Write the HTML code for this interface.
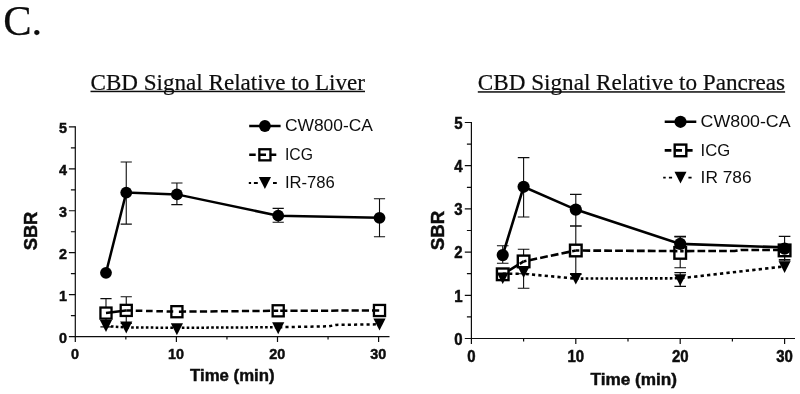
<!DOCTYPE html>
<html lang="en">
<head>
<meta charset="utf-8">
<title>C. CBD Signal Relative to Liver / Pancreas</title>
<style>
html,body{margin:0;padding:0;background:#fff;}
body{width:800px;height:394px;overflow:hidden;}
svg{display:block;will-change:transform;}
</style>
</head>
<body>
<svg width="800" height="394" viewBox="0 0 800 394">
<rect width="800" height="394" fill="#fff"/>
<text x="3.2" y="35.2" font-family="'Liberation Serif', 'Times New Roman', Times, serif" font-size="42.5" fill="#0d0d0d" stroke="#0d0d0d" stroke-width="0.25">C.</text>
<!-- left chart -->
<g stroke="#0d0d0d" stroke-width="1.2" fill="none">
<path d="M75.3 126.25V336.6H389.5"/>
<path d="M75.3 336.6h-6.4M75.3 315.62h-4.4M75.3 294.65h-6.4M75.3 273.68h-4.4M75.3 252.7h-6.4M75.3 231.73h-4.4M75.3 210.75h-6.4M75.3 189.78h-4.4M75.3 168.8h-6.4M75.3 147.83h-4.4M75.3 126.85h-6.4M75.3 336.6v5.5M125.85 336.6v3M176.4 336.6v5.5M226.95 336.6v3M277.5 336.6v5.5M328.05 336.6v3M378.6 336.6v5.5"/>
</g>
<g font-family="'Liberation Sans', Arial, Helvetica, sans-serif" font-weight="bold" font-size="14.4" fill="#0d0d0d" stroke="#0d0d0d" stroke-width="0.45">
<text transform="translate(67.1 342.8) scale(1 1.06)" text-anchor="end">0</text>
<text transform="translate(67.1 300.85) scale(1 1.06)" text-anchor="end">1</text>
<text transform="translate(67.1 258.9) scale(1 1.06)" text-anchor="end">2</text>
<text transform="translate(67.1 216.95) scale(1 1.06)" text-anchor="end">3</text>
<text transform="translate(67.1 175) scale(1 1.06)" text-anchor="end">4</text>
<text transform="translate(67.1 133.05) scale(1 1.06)" text-anchor="end">5</text>
<text transform="translate(75 359.2) scale(1 1.06)" text-anchor="middle">0</text>
<text transform="translate(176.1 359.2) scale(1 1.06)" text-anchor="middle">10</text>
<text transform="translate(277.2 359.2) scale(1 1.06)" text-anchor="middle">20</text>
<text transform="translate(378.3 359.2) scale(1 1.06)" text-anchor="middle">30</text>
</g>
<text x="232.3" y="380.5" text-anchor="middle" font-family="'Liberation Sans', Arial, Helvetica, sans-serif" font-weight="bold" font-size="16.8" fill="#0d0d0d" stroke="#0d0d0d" stroke-width="0.45">Time (min)</text>
<text transform="translate(37 231) rotate(-90)" text-anchor="middle" font-family="'Liberation Sans', Arial, Helvetica, sans-serif" font-weight="bold" font-size="17.8" fill="#0d0d0d" stroke="#0d0d0d" stroke-width="0.45" textLength="38.6" lengthAdjust="spacingAndGlyphs">SBR</text>
<text x="90.5" y="89.9" font-family="'Liberation Serif', 'Times New Roman', Times, serif" font-size="23" fill="#0d0d0d" stroke="#0d0d0d" stroke-width="0.2" textLength="274.5" lengthAdjust="spacingAndGlyphs">CBD Signal Relative to Liver</text>
<rect x="90.5" y="90.7" width="274.5" height="1.5" fill="#0d0d0d"/>
<path d="M126.25 162V224.1M120.65 162h11.2M120.65 224.1h11.2M176.9 183V204.6M171.3 183h11.2M171.3 204.6h11.2M278.2 208.4V222.3M272.6 208.4h11.2M272.6 222.3h11.2M379.5 198.8V236.8M373.9 198.8h11.2M373.9 236.8h11.2" stroke="#0d0d0d" stroke-width="1.1" fill="none"/>
<path d="M105.99 298.6V326.9M100.39 298.6h11.2M100.39 326.9h11.2M126.25 296.7V323.5M120.65 296.7h11.2M120.65 323.5h11.2" stroke="#0d0d0d" stroke-width="1.1" fill="none"/>
<rect x="100.44" y="307.55" width="11.1" height="11.1" fill="#fff" stroke="#000" stroke-width="2.3"/>
<rect x="120.7" y="304.85" width="11.1" height="11.1" fill="#fff" stroke="#000" stroke-width="2.3"/>
<rect x="171.35" y="306.15" width="11.1" height="11.1" fill="#fff" stroke="#000" stroke-width="2.3"/>
<rect x="272.65" y="305.25" width="11.1" height="11.1" fill="#fff" stroke="#000" stroke-width="2.3"/>
<rect x="373.95" y="304.95" width="11.1" height="11.1" fill="#fff" stroke="#000" stroke-width="2.3"/>
<path d="M105.99 313.1L126.25 310.4" stroke="#000" stroke-width="2.5" fill="none" stroke-linejoin="round" stroke-dasharray="20 0" stroke-dashoffset="0"/>
<path d="M126.25 310.4L176.9 311.7" stroke="#000" stroke-width="2.5" fill="none" stroke-linejoin="round" stroke-dasharray="6.6 3.7" stroke-dashoffset="-9.5"/>
<path d="M176.9 311.7L278.2 310.8" stroke="#000" stroke-width="2.5" fill="none" stroke-linejoin="round" stroke-dasharray="7.2 3.3" stroke-dashoffset="-2"/>
<path d="M278.2 310.8L379.5 310.5" stroke="#000" stroke-width="2.5" fill="none" stroke-linejoin="round" stroke-dasharray="7.2 3.0" stroke-dashoffset="-2"/>
<path d="M105.99 272.8L126.25 192.6L176.9 194.4L278.2 215.7L379.5 217.8" stroke="#000" stroke-width="2.5" fill="none"/>
<circle cx="105.99" cy="272.8" r="5.9" fill="#000"/>
<circle cx="126.25" cy="192.6" r="5.9" fill="#000"/>
<circle cx="176.9" cy="194.4" r="5.9" fill="#000"/>
<circle cx="278.2" cy="215.7" r="5.9" fill="#000"/>
<circle cx="379.5" cy="217.8" r="5.9" fill="#000"/>
<path d="M105.99 326.1L126.25 327.4" stroke="#000" stroke-width="2.5" fill="none" stroke-linejoin="round" stroke-dasharray="2.6 2.3" stroke-dashoffset="0"/>
<path d="M126.25 327.4L176.9 327.8" stroke="#000" stroke-width="2.5" fill="none" stroke-linejoin="round" stroke-dasharray="2.6 2.3" stroke-dashoffset="0"/>
<path d="M176.9 327.8L278.2 327.2" stroke="#000" stroke-width="2.5" fill="none" stroke-linejoin="round" stroke-dasharray="2.6 2.3" stroke-dashoffset="0"/>
<path d="M278.2 327.2L328.85 326.3L335.94 324.9L379.5 324.3" stroke="#000" stroke-width="2.5" fill="none" stroke-linejoin="round" stroke-dasharray="3.1 3.15" stroke-dashoffset="-1"/>
<path d="M99.89 320.1h12.2L105.99 332.1z" fill="#000"/>
<path d="M120.15 321.5h12.2L126.25 333.5z" fill="#000"/>
<path d="M170.8 323.3h12.2L176.9 335.3z" fill="#000"/>
<path d="M272.1 322.2h12.2L278.2 334.2z" fill="#000"/>
<path d="M373.4 318.5h12.2L379.5 330.5z" fill="#000"/>
<path d="M249.2 126H280.6" stroke="#000" stroke-width="2.5"/>
<circle cx="264.9" cy="126" r="5.9" fill="#000"/>
<rect x="259.35" y="149.25" width="11.1" height="11.1" fill="#fff" stroke="#000" stroke-width="2.3"/>
<path d="M249.2 154.8H280.6" stroke="#000" stroke-width="2.5" stroke-dasharray="6.5 3.8 6.5 3.8 6.5 100"/>
<path d="M248.8 183H280.6" stroke="#000" stroke-width="1.9" stroke-dasharray="2.3 2.8 3.9 15.2 3.8 100"/>
<path d="M258.8 177h12.2L264.9 189z" fill="#000"/>
<g font-family="'Liberation Sans', Arial, Helvetica, sans-serif" font-size="16.8" fill="#0d0d0d">
<text x="284.9" y="131.4" textLength="88" lengthAdjust="spacingAndGlyphs">CW800-CA</text>
<text x="284.9" y="160.2" textLength="28" lengthAdjust="spacingAndGlyphs">ICG</text>
<text x="284.9" y="188.4" textLength="50" lengthAdjust="spacingAndGlyphs">IR-786</text>
</g>
<!-- right chart -->
<g stroke="#0d0d0d" stroke-width="1.2" fill="none">
<path d="M471.4 121.9V338.5H795"/>
<path d="M471.4 338.5h-6.6M471.4 316.9h-4.5M471.4 295.3h-6.6M471.4 273.7h-4.5M471.4 252.1h-6.6M471.4 230.5h-4.5M471.4 208.9h-6.6M471.4 187.3h-4.5M471.4 165.7h-6.6M471.4 144.1h-4.5M471.4 122.5h-6.6M471.4 338.5v5.6M523.6 338.5v3M575.8 338.5v5.6M628 338.5v3M680.2 338.5v5.6M732.4 338.5v3M784.6 338.5v5.6"/>
</g>
<g font-family="'Liberation Sans', Arial, Helvetica, sans-serif" font-weight="bold" font-size="15" fill="#0d0d0d" stroke="#0d0d0d" stroke-width="0.45">
<text transform="translate(462.5 344.7) scale(1 1.06)" text-anchor="end">0</text>
<text transform="translate(462.5 301.5) scale(1 1.06)" text-anchor="end">1</text>
<text transform="translate(462.5 258.3) scale(1 1.06)" text-anchor="end">2</text>
<text transform="translate(462.5 215.1) scale(1 1.06)" text-anchor="end">3</text>
<text transform="translate(462.5 171.9) scale(1 1.06)" text-anchor="end">4</text>
<text transform="translate(462.5 128.7) scale(1 1.06)" text-anchor="end">5</text>
<text transform="translate(471.4 362.3) scale(1 1.06)" text-anchor="middle">0</text>
<text transform="translate(575.8 362.3) scale(1 1.06)" text-anchor="middle">10</text>
<text transform="translate(680.2 362.3) scale(1 1.06)" text-anchor="middle">20</text>
<text transform="translate(784.6 362.3) scale(1 1.06)" text-anchor="middle">30</text>
</g>
<text x="633.8" y="384.8" text-anchor="middle" font-family="'Liberation Sans', Arial, Helvetica, sans-serif" font-weight="bold" font-size="17.2" fill="#0d0d0d" stroke="#0d0d0d" stroke-width="0.45">Time (min)</text>
<text transform="translate(443.8 230.5) rotate(-90)" text-anchor="middle" font-family="'Liberation Sans', Arial, Helvetica, sans-serif" font-weight="bold" font-size="18" fill="#0d0d0d" stroke="#0d0d0d" stroke-width="0.45" textLength="39.4" lengthAdjust="spacingAndGlyphs">SBR</text>
<text x="477.8" y="90.3" font-family="'Liberation Serif', 'Times New Roman', Times, serif" font-size="23" fill="#0d0d0d" stroke="#0d0d0d" stroke-width="0.2" textLength="307.3" lengthAdjust="spacingAndGlyphs">CBD Signal Relative to Pancreas</text>
<rect x="477.8" y="91.2" width="307.3" height="1.5" fill="#0d0d0d"/>
<path d="M502.72 245.7V263.2M496.92 245.7h11.6M496.92 263.2h11.6M523.6 157.6V217M517.8 157.6h11.6M517.8 217h11.6M575.8 194.4V226M570 194.4h11.6M570 226h11.6M680.2 236.4V250.7M674.4 236.4h11.6M674.4 250.7h11.6M784.6 236.4V259.5M778.8 236.4h11.6M778.8 259.5h11.6" stroke="#0d0d0d" stroke-width="1.1" fill="none"/>
<path d="M523.6 249.3V273.8M517.8 249.3h11.6M517.8 273.8h11.6M575.8 226V274.5M570 226h11.6M570 274.5h11.6M680.2 236.9V267.8M674.4 236.9h11.6M674.4 267.8h11.6M784.6 250.4V260.7M778.8 260.7h11.6" stroke="#0d0d0d" stroke-width="1.1" fill="none"/>
<path d="M523.6 272.2V288.2M517.8 288.2h11.6M680.2 272.6V286.4M674.4 272.6h11.6M674.4 286.4h11.6" stroke="#0d0d0d" stroke-width="1.1" fill="none"/>
<rect x="496.92" y="268.5" width="11.6" height="11.6" fill="#fff" stroke="#000" stroke-width="2.4"/>
<rect x="517.8" y="255.6" width="11.6" height="11.6" fill="#fff" stroke="#000" stroke-width="2.4"/>
<rect x="570" y="244.7" width="11.6" height="11.6" fill="#fff" stroke="#000" stroke-width="2.4"/>
<rect x="674.4" y="247.1" width="11.6" height="11.6" fill="#fff" stroke="#000" stroke-width="2.4"/>
<rect x="778.8" y="244.6" width="11.6" height="11.6" fill="#fff" stroke="#000" stroke-width="2.4"/>
<path d="M502.72 274.3L523.6 261.4" stroke="#000" stroke-width="2.6" fill="none" stroke-linejoin="round" stroke-dasharray="0 7 10.5 2.5 10 50" stroke-dashoffset="0"/>
<path d="M523.6 261.4L575.8 250.5" stroke="#000" stroke-width="2.6" fill="none" stroke-linejoin="round" stroke-dasharray="7.8 3.1" stroke-dashoffset="-6"/>
<path d="M575.8 250.5L680.2 251.1" stroke="#000" stroke-width="2.6" fill="none" stroke-linejoin="round" stroke-dasharray="7.8 3.1" stroke-dashoffset="4.3"/>
<path d="M680.2 251.1L734.49 251L740.75 250L784.6 250" stroke="#000" stroke-width="2.6" fill="none" stroke-linejoin="round" stroke-dasharray="7.7 3.1" stroke-dashoffset="4.3"/>
<path d="M502.72 255.1L523.6 186.8L575.8 209.6L680.2 243.9L784.6 247.4" stroke="#000" stroke-width="2.6" fill="none"/>
<circle cx="502.72" cy="255.1" r="6.1" fill="#000"/>
<circle cx="523.6" cy="186.8" r="6.1" fill="#000"/>
<circle cx="575.8" cy="209.6" r="6.1" fill="#000"/>
<circle cx="680.2" cy="243.9" r="6.1" fill="#000"/>
<circle cx="784.6" cy="248.6" r="6.1" fill="#000"/>
<path d="M502.72 273.8L523.6 273.8" stroke="#000" stroke-width="2.6" fill="none" stroke-linejoin="round" stroke-dasharray="3.2 3.2" stroke-dashoffset="0"/>
<path d="M523.6 273.8L575.8 278.6" stroke="#000" stroke-width="2.6" fill="none" stroke-linejoin="round" stroke-dasharray="3.2 3.2" stroke-dashoffset="-2"/>
<path d="M575.8 278.6L680.2 278.3" stroke="#000" stroke-width="2.6" fill="none" stroke-linejoin="round" stroke-dasharray="2.6 2.35" stroke-dashoffset="0"/>
<path d="M680.2 278.3L784.6 266.4" stroke="#000" stroke-width="2.6" fill="none" stroke-linejoin="round" stroke-dasharray="3.3 3.2" stroke-dashoffset="-1"/>
<path d="M496.72 272.4h12L502.72 284z" fill="#000"/>
<path d="M517.6 266.4h12L523.6 278z" fill="#000"/>
<path d="M569.8 272.9h12L575.8 284.5z" fill="#000"/>
<path d="M674.2 274.2h12L680.2 285.8z" fill="#000"/>
<path d="M778.6 261.3h12L784.6 272.9z" fill="#000"/>
<path d="M664.7 121.8H696.3" stroke="#000" stroke-width="2.6"/>
<circle cx="680.5" cy="121.8" r="6.1" fill="#000"/>
<rect x="674.7" y="144.6" width="11.6" height="11.6" fill="#fff" stroke="#000" stroke-width="2.4"/>
<path d="M664.7 150.4H696.3" stroke="#000" stroke-width="2.6" stroke-dasharray="6.7 3.9 6.7 3.9 6.7 100"/>
<path d="M663.2 177.6H696.3" stroke="#000" stroke-width="1.9" stroke-dasharray="2.5 3.2 3.2 16.3 3.2 100"/>
<path d="M674.5 171.8h12L680.5 183.4z" fill="#000"/>
<g font-family="'Liberation Sans', Arial, Helvetica, sans-serif" font-size="17.2" fill="#0d0d0d">
<text x="700.6" y="127.4" textLength="90" lengthAdjust="spacingAndGlyphs">CW800-CA</text>
<text x="700.6" y="156" textLength="29.6" lengthAdjust="spacingAndGlyphs">ICG</text>
<text x="700.6" y="183.2" textLength="51" lengthAdjust="spacingAndGlyphs">IR 786</text>
</g>
</svg>
</body>
</html>
